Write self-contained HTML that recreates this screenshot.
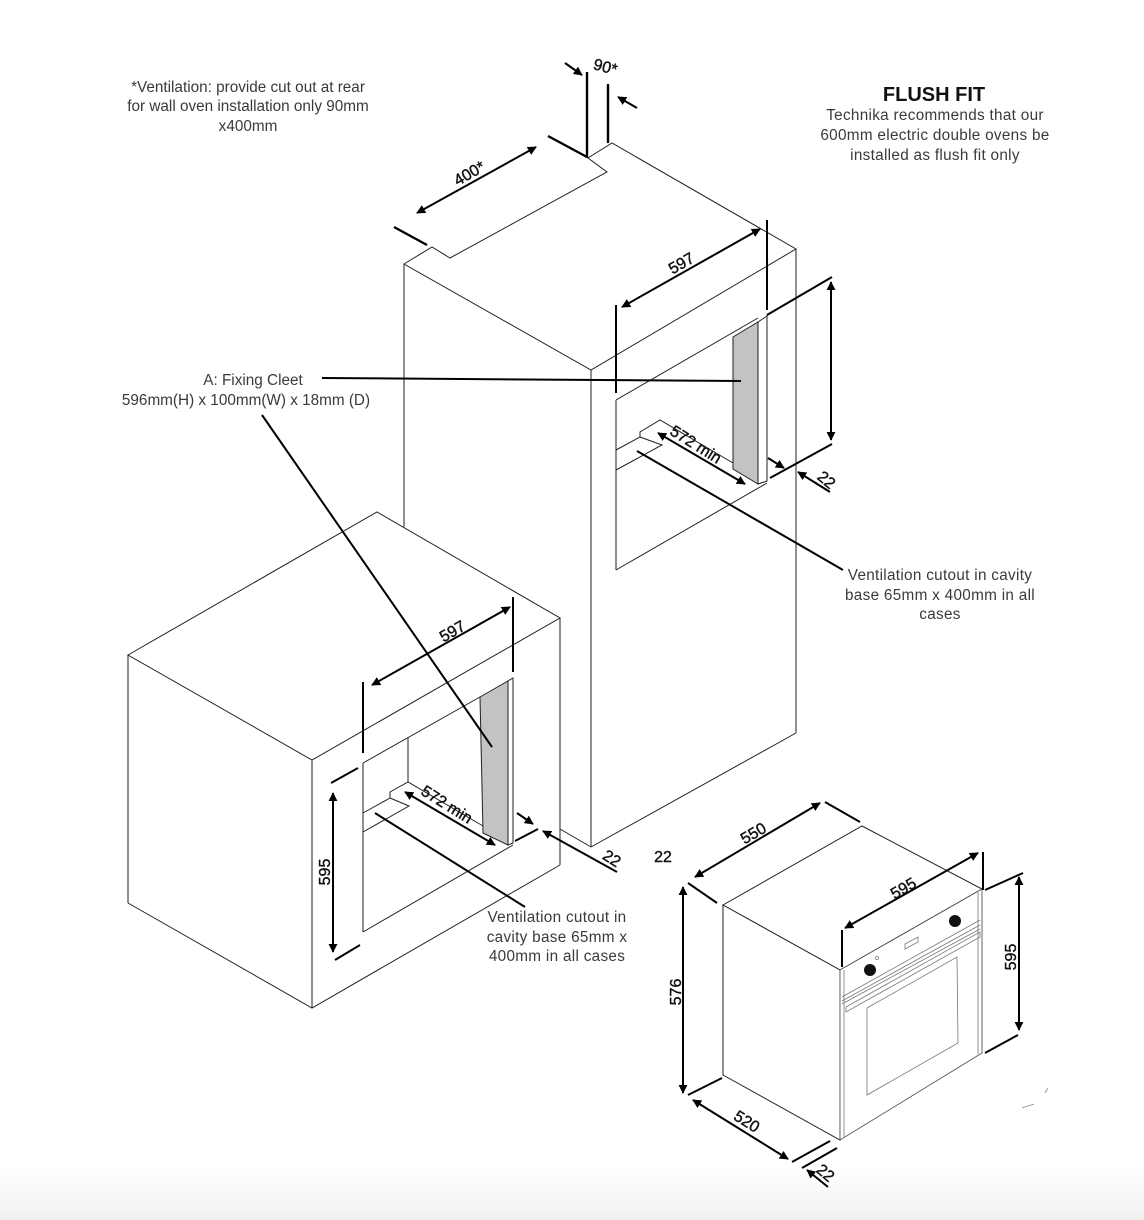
<!DOCTYPE html>
<html><head><meta charset="utf-8"><style>
html,body{margin:0;padding:0;background:#fff;}
svg{display:block;}
text{font-family:"Liberation Sans",sans-serif;}
.t{font-size:15.3px;fill:#3a3a3a;}
.d{font-size:16px;fill:#111;stroke:#111;stroke-width:0.4;}
.l{fill:none;stroke:#222;stroke-width:1;}
.lg{fill:none;stroke:#777;stroke-width:0.8;}
.k{fill:none;stroke:#000;stroke-width:2.4;}
.a{fill:none;stroke:#000;stroke-width:2;}
</style></head><body>
<svg width="1144" height="1220" viewBox="0 0 1144 1220" xmlns="http://www.w3.org/2000/svg">
<defs>
<marker id="ah" viewBox="0 0 10 10" refX="9" refY="5" markerWidth="9" markerHeight="9" markerUnits="userSpaceOnUse" orient="auto-start-reverse">
<path d="M0,0 L10,5 L0,10 Z" fill="#000"/>
</marker>
<linearGradient id="bg" x1="0" y1="0" x2="0" y2="1">
<stop offset="0" stop-color="#fff"/><stop offset="1" stop-color="#f1f1f1"/>
</linearGradient>
</defs>
<rect x="0" y="0" width="1144" height="1220" fill="#fff"/>
<rect x="0" y="1170" width="1144" height="50" fill="url(#bg)"/>

<!-- Texts -->
<text class="t" x="248" y="92" text-anchor="middle">*Ventilation: provide cut out at rear</text>
<text class="t" x="248" y="111" text-anchor="middle">for wall oven installation only 90mm</text>
<text class="t" x="248" y="131" text-anchor="middle">x400mm</text>

<text x="934" y="101" text-anchor="middle" style="font-size:20px;font-weight:bold;fill:#111;">FLUSH FIT</text>
<text class="t" x="935" y="120" text-anchor="middle" style="letter-spacing:0.3px">Technika recommends that our</text>
<text class="t" x="935" y="140" text-anchor="middle" style="letter-spacing:0.3px">600mm electric double ovens be</text>
<text class="t" x="935" y="160" text-anchor="middle" style="letter-spacing:0.3px">installed as flush fit only</text>

<text class="t" x="253" y="385" text-anchor="middle">A: Fixing Cleet</text>
<text class="t" x="246" y="405" text-anchor="middle">596mm(H) x 100mm(W) x 18mm (D)</text>

<text class="t" x="940" y="580" text-anchor="middle" style="letter-spacing:0.3px">Ventilation cutout in cavity</text>
<text class="t" x="940" y="600" text-anchor="middle" style="letter-spacing:0.3px">base 65mm x 400mm in all</text>
<text class="t" x="940" y="619" text-anchor="middle" style="letter-spacing:0.3px">cases</text>

<text class="t" x="557" y="922" text-anchor="middle" style="letter-spacing:0.3px">Ventilation cutout in</text>
<text class="t" x="557" y="942" text-anchor="middle" style="letter-spacing:0.3px">cavity base 65mm x</text>
<text class="t" x="557" y="961" text-anchor="middle" style="letter-spacing:0.3px">400mm in all cases</text>

<!-- ===== Tall cabinet ===== -->
<path class="l" d="M404,264 L432,247 L450,258 L607,172 L588,158 L612,143 L796,249 L591,370 Z" fill="#fff"/>
<line class="l" x1="404" y1="264" x2="404" y2="527"/>
<line class="l" x1="591" y1="370" x2="591" y2="847"/>
<line class="l" x1="796" y1="249" x2="796" y2="733"/>
<line class="l" x1="591" y1="847" x2="796" y2="733"/>
<line class="l" x1="560" y1="829" x2="591" y2="847"/>
<!-- opening -->
<line class="l" x1="616" y1="400" x2="616" y2="570"/>
<line class="l" x1="616" y1="400" x2="758" y2="318"/>
<line class="l" x1="616" y1="570" x2="767" y2="483"/>
<line class="l" x1="767" y1="315" x2="767" y2="481"/>
<!-- floor step -->
<polyline class="l" points="616,450 640,437 640,432 660,420 733,463"/>
<polyline class="l" points="640,437 662,445 616,470"/>
<!-- cleat -->
<polygon points="733,337 758,322 758,484 733,469" fill="#c3c3c3" stroke="#222" stroke-width="1"/>
<polygon points="758,322 767,316 767,481 758,484" fill="#fff" stroke="#222" stroke-width="1"/>

<!-- tall dims -->
<line class="k" x1="587" y1="72" x2="587" y2="158"/>
<line class="k" x1="608" y1="84" x2="608" y2="143"/>
<line class="a" x1="565" y1="63" x2="582" y2="75" marker-end="url(#ah)"/>
<line class="a" x1="637" y1="108" x2="618" y2="97" marker-end="url(#ah)"/>
<text class="d" x="0" y="0" transform="translate(604,72) rotate(15)" text-anchor="middle">90*</text>

<line class="k" x1="548" y1="136" x2="587" y2="157"/>
<line class="k" x1="394" y1="227" x2="427" y2="245"/>
<line class="a" x1="417" y1="213" x2="536" y2="147" marker-start="url(#ah)" marker-end="url(#ah)"/>
<text class="d" x="0" y="0" transform="translate(472,178) rotate(-30)" text-anchor="middle">400*</text>

<line class="a" x1="616" y1="305" x2="616" y2="393"/>
<line class="a" x1="767" y1="220" x2="767" y2="310"/>
<line class="a" x1="622" y1="307" x2="760" y2="229" marker-start="url(#ah)" marker-end="url(#ah)"/>
<text class="d" x="0" y="0" transform="translate(684,268) rotate(-30)" text-anchor="middle">597</text>

<line class="a" x1="767" y1="315" x2="832" y2="277"/>
<line class="a" x1="831" y1="282" x2="831" y2="440" marker-start="url(#ah)" marker-end="url(#ah)"/>
<line class="a" x1="770" y1="478" x2="832" y2="444"/>
<line class="a" x1="768" y1="458" x2="784" y2="468" marker-end="url(#ah)"/>
<line class="a" x1="830" y1="492" x2="798" y2="472" marker-end="url(#ah)"/>
<text class="d" x="0" y="0" transform="translate(823,484) rotate(40)" text-anchor="middle">22</text>

<line class="a" x1="658" y1="433" x2="745" y2="484" marker-start="url(#ah)" marker-end="url(#ah)"/>
<text class="d" x="0" y="0" transform="translate(693,449) rotate(32)" text-anchor="middle">572 min</text>

<!-- leaders -->
<line class="a" x1="322" y1="378" x2="741" y2="381"/>
<line class="a" x1="637" y1="451" x2="843" y2="570"/>

<!-- ===== Small cabinet ===== -->
<path class="l" d="M128,655 L377,512 L560,618 L312,760 Z" fill="#fff"/>
<line class="l" x1="128" y1="655" x2="128" y2="903"/>
<line class="l" x1="312" y1="760" x2="312" y2="1008"/>
<line class="l" x1="560" y1="618" x2="560" y2="865"/>
<polyline class="l" points="128,903 312,1008 560,865"/>
<!-- opening -->
<line class="l" x1="363" y1="763" x2="363" y2="932"/>
<line class="l" x1="363" y1="932" x2="513" y2="845"/>
<line class="l" x1="363" y1="763" x2="480" y2="697"/>
<line class="l" x1="408" y1="738" x2="408" y2="782"/>
<polyline class="l" points="363,813 390,798 390,792 408,782 483,826"/>
<polyline class="l" points="390,798 409,806 363,832"/>
<polygon points="480,697 508,681 508,845 483,833" fill="#c3c3c3" stroke="#222" stroke-width="1"/>
<polygon points="508,681 513,678 513,843 508,845" fill="#fff" stroke="#222" stroke-width="1"/>

<!-- small dims -->
<line class="a" x1="363" y1="682" x2="363" y2="753"/>
<line class="a" x1="513" y1="597" x2="513" y2="672"/>
<line class="a" x1="372" y1="685" x2="510" y2="607" marker-start="url(#ah)" marker-end="url(#ah)"/>
<text class="d" x="0" y="0" transform="translate(455,636) rotate(-30)" text-anchor="middle">597</text>

<line class="a" x1="331" y1="783" x2="358" y2="768"/>
<line class="a" x1="335" y1="960" x2="360" y2="945"/>
<line class="a" x1="333" y1="793" x2="333" y2="952" marker-start="url(#ah)" marker-end="url(#ah)"/>
<text class="d" x="0" y="0" transform="translate(330,872) rotate(-90)" text-anchor="middle">595</text>

<line class="a" x1="405" y1="792" x2="495" y2="845" marker-start="url(#ah)" marker-end="url(#ah)"/>
<text class="d" x="0" y="0" transform="translate(444,809) rotate(32)" text-anchor="middle">572 min</text>

<line class="a" x1="515" y1="841" x2="538" y2="829"/>
<line class="a" x1="517" y1="813" x2="533" y2="824" marker-end="url(#ah)"/>
<line class="a" x1="617" y1="872" x2="543" y2="831" marker-end="url(#ah)"/>
<text class="d" x="0" y="0" transform="translate(609,863) rotate(32)" text-anchor="middle">22</text>
<text class="d" x="663" y="862" text-anchor="middle">22</text>

<line class="a" x1="262" y1="415" x2="492" y2="747"/>
<line class="a" x1="375" y1="813" x2="525" y2="907"/>

<!-- ===== Oven ===== -->
<polygon points="723,905 862,826 982,889 840,970" fill="#fff" stroke="#222" stroke-width="1"/>
<polygon points="723,905 840,970 840,1140 723,1075" fill="#fff" stroke="#222" stroke-width="1"/>
<polygon points="840,970 982,889 982,1053 840,1140" fill="#fff" stroke="#555" stroke-width="0.9"/>
<line class="lg" x1="844" y1="970" x2="844" y2="1138"/>
<line class="lg" x1="978" y1="892" x2="978" y2="1054"/>
<line class="lg" x1="842" y1="997" x2="980" y2="920"/>
<line class="lg" x1="842" y1="1001" x2="980" y2="925"/>
<line class="lg" x1="842" y1="1004" x2="980" y2="929"/>
<polygon class="lg" points="846,1007 980,932 980,937 846,1012"/>
<polygon class="lg" points="867,1008 957,957 958,1043 867,1095"/>
<circle cx="870" cy="970" r="6" fill="#111"/>
<circle cx="955" cy="921" r="6" fill="#111"/>
<circle cx="877" cy="958" r="1.5" fill="none" stroke="#777" stroke-width="0.7"/>
<polygon class="lg" points="905,944 918,937 918,942 905,949"/>
<line x1="1022" y1="1108" x2="1034" y2="1104" stroke="#888" stroke-width="0.8"/>
<line x1="1045" y1="1093" x2="1048" y2="1088" stroke="#888" stroke-width="0.8"/>

<!-- oven dims -->
<line class="a" x1="688" y1="883" x2="717" y2="903"/>
<line class="a" x1="825" y1="802" x2="860" y2="822"/>
<line class="a" x1="695" y1="877" x2="820" y2="803" marker-start="url(#ah)" marker-end="url(#ah)"/>
<text class="d" x="0" y="0" transform="translate(756,838) rotate(-30)" text-anchor="middle">550</text>

<line class="a" x1="842" y1="930" x2="842" y2="967"/>
<line class="a" x1="983" y1="852" x2="983" y2="890"/>
<line class="a" x1="845" y1="928" x2="978" y2="853" marker-start="url(#ah)" marker-end="url(#ah)"/>
<text class="d" x="0" y="0" transform="translate(906,893) rotate(-30)" text-anchor="middle">595</text>

<line class="a" x1="985" y1="890" x2="1023" y2="873"/>
<line class="a" x1="985" y1="1053" x2="1018" y2="1035"/>
<line class="a" x1="1019" y1="877" x2="1019" y2="1030" marker-start="url(#ah)" marker-end="url(#ah)"/>
<text class="d" x="0" y="0" transform="translate(1016,957) rotate(-90)" text-anchor="middle">595</text>

<line class="a" x1="683" y1="887" x2="683" y2="1093" marker-start="url(#ah)" marker-end="url(#ah)"/>
<line class="a" x1="688" y1="1095" x2="722" y2="1078"/>
<text class="d" x="0" y="0" transform="translate(681,992) rotate(-90)" text-anchor="middle">576</text>

<line class="a" x1="693" y1="1100" x2="788" y2="1159" marker-start="url(#ah)" marker-end="url(#ah)"/>
<text class="d" x="0" y="0" transform="translate(744,1126) rotate(32)" text-anchor="middle">520</text>
<line class="a" x1="792" y1="1162" x2="830" y2="1141"/>
<line class="a" x1="802" y1="1168" x2="837" y2="1148"/>
<line class="a" x1="828" y1="1187" x2="807" y2="1170" marker-end="url(#ah)"/>
<text class="d" x="0" y="0" transform="translate(822,1177) rotate(40)" text-anchor="middle">22</text>
</svg>
</body></html>
